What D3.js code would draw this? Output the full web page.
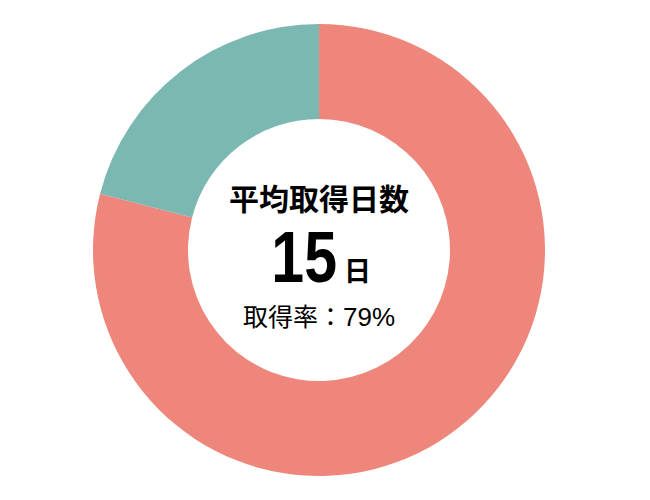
<!DOCTYPE html>
<html>
<head>
<meta charset="utf-8">
<script src="https://cdn.jsdelivr.net/npm/d3@7"></script>
<style>
body{margin:0;background:#fff;}
</style>
</head>
<body>
<script>
var width=650,height=500;
var labels = ["取得", "未取得"];
var values = [79, 21];
var colors = ["#ee867c", "#7bb8b2"];
var title = "平均取得日数";
var avgDays = "15";
var dayUnit = "日";
var rateLabel = "取得率：";
var rateValue = "79%";

var svg = d3.select("body")
	.append("svg")
	.attr("width", width)
	.attr("height", height);

var cx = 319, cy = 250;
var outerR = 226, innerR = 131;

var pie = d3.pie().sort(null).value(function(d){return d;});
var arc = d3.arc().innerRadius(innerR).outerRadius(outerR);

var g = svg.append("g").attr("transform", "translate("+cx+","+cy+")");

g.selectAll("path")
	.data(pie(values))
	.enter().append("path")
	.attr("d", arc)
	.attr("fill", function(d,i){return colors[i];});

var jp = "'Noto Sans CJK JP', sans-serif";

g.append("text")
	.attr("x", 0).attr("y", -40)
	.attr("text-anchor", "middle")
	.attr("font-family", jp)
	.attr("font-weight", "bold")
	.attr("font-size", 30)
	.text(title);

// condensed number: squeeze horizontally
g.append("text")
	.attr("transform", "translate(18,32) scale(0.82,1)")
	.attr("text-anchor", "end")
	.attr("font-family", "'Liberation Sans', sans-serif")
	.attr("font-weight", "bold")
	.attr("font-size", 72)
	.text(avgDays);

g.append("text")
	.attr("x", 25).attr("y", 31)
	.attr("font-family", jp)
	.attr("font-weight", "bold")
	.attr("font-size", 27)
	.text(dayUnit);

var rate = g.append("text")
	.attr("x", 0).attr("y", 76)
	.attr("text-anchor", "middle")
	.attr("font-family", jp)
	.attr("font-size", 25);
rate.append("tspan").text(rateLabel);
rate.append("tspan")
	.attr("font-family", "'Liberation Sans', sans-serif")
	.attr("font-size", 26)
	.text(rateValue);
</script>
</body>
</html>
